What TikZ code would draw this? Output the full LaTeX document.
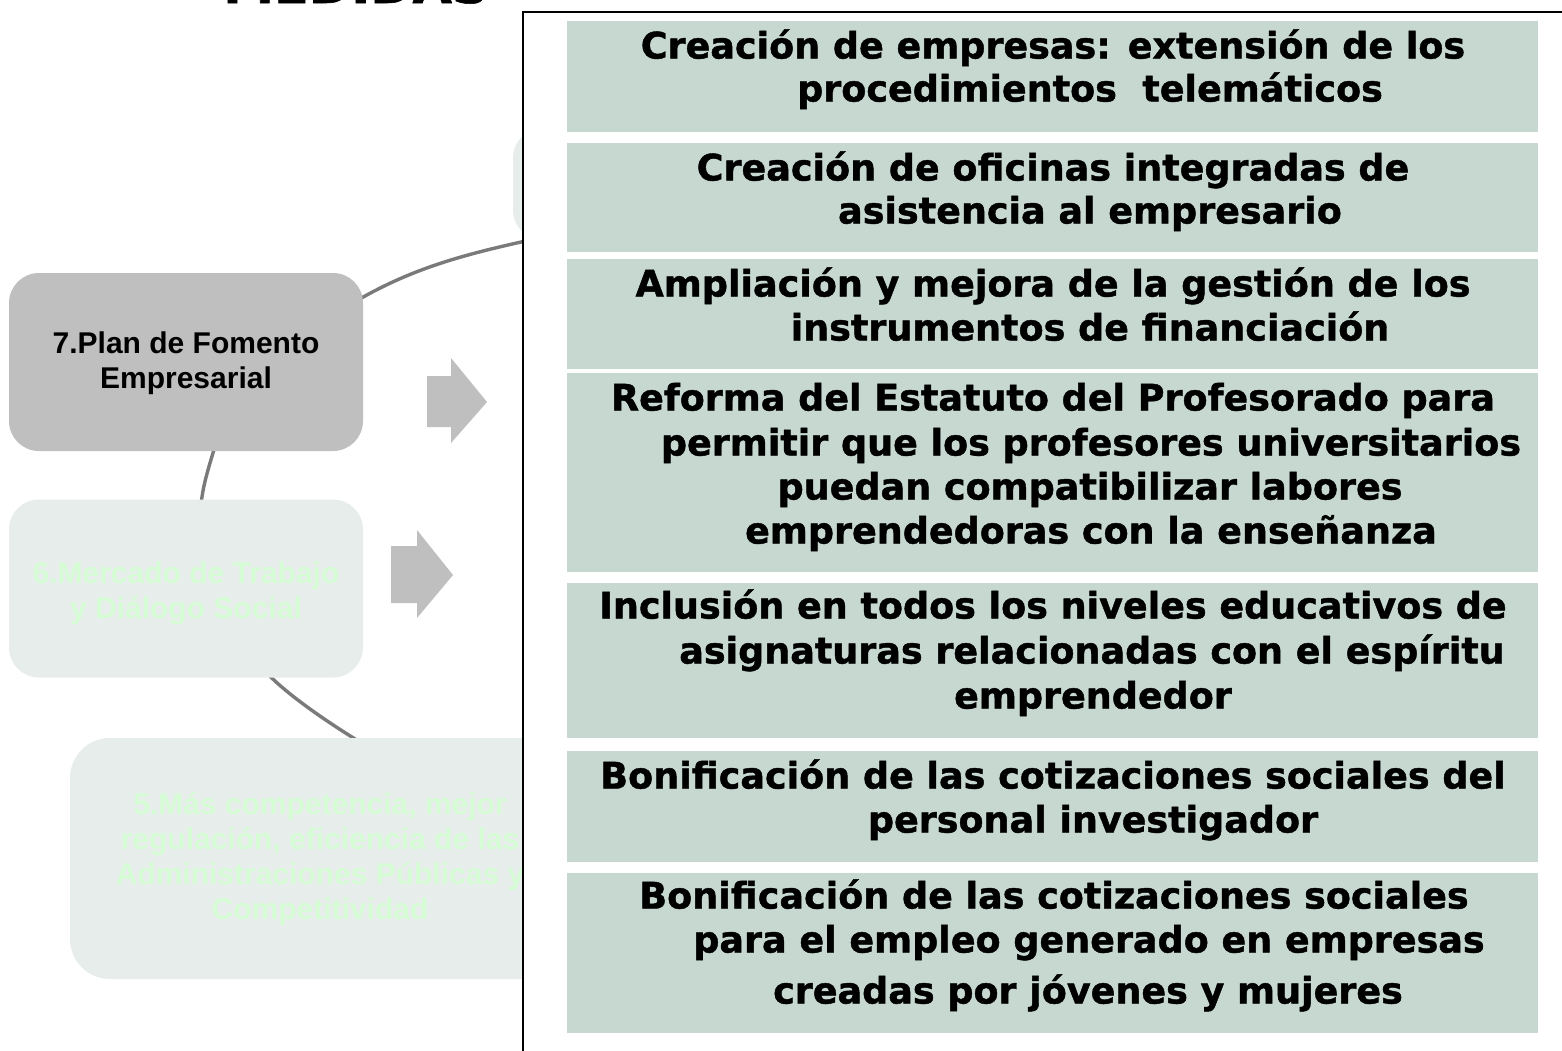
\documentclass[tikz,border=0pt]{standalone}
\usepackage{fontspec}
\setmainfont{Liberation Sans}
\newfontfamily\heavyfont[FakeBold=1.2]{DejaVu Sans Bold}
\definecolor{graybox}{RGB}{191,191,191}
\definecolor{fadebg}{RGB}{231,237,234}
\definecolor{fadetx}{RGB}{214,252,214}
\definecolor{greenbox}{RGB}{198,216,208}
\definecolor{arcgray}{RGB}{122,122,122}
\newcommand\mline[4]{\node[mtext] (#1) at (#2,#3) {#4};}
\begin{document}
\begin{tikzpicture}[x=1pt,y=-1pt,
  every node/.style={inner sep=0pt, outer sep=0pt},
  graysmart/.style={fill=graybox, rounded corners=30pt},
  fadesmart/.style={fill=fadebg, rounded corners=30pt},
  lbl/.style={font=\bfseries\fontsize{30}{35}\selectfont, align=center},
  mtext/.style={font=\heavyfont\fontsize{36.5}{44}\selectfont, text height=0.75em, text depth=0.05em, anchor=center},
  greenrect/.style={fill=greenbox},
  arcline/.style={draw=arcgray, line width=3.4pt},
  fatarrow/.style={fill=graybox}]
\useasboundingbox (0,0) rectangle (1562,1050);
\fill[white] (0,0) rectangle (1562,1050);

% title (cut off at top, as in the reference)
\node[font=\heavyfont\fontsize{51}{60}\selectfont, anchor=base] (title) at (356,3) {MEDIDAS};

% connector arcs
\coordinate (c1a) at (358,300);
\coordinate (c1b) at (530,240);
\coordinate (c2a) at (215,446);
\coordinate (c2b) at (201,505);
\coordinate (c3a) at (266,672);
\coordinate (c3b) at (360,742);

% faded smart-art boxes
\node[fadesmart, minimum width=357pt, minimum height=112pt] (b8) at (691.5,184) {};
\draw[arcline] (c1a) .. controls (415,267) and (467,254) .. (c1b);
\draw[arcline] (c2a) .. controls (209,467) and (203,484) .. (c2b);
\draw[arcline] (c3a) .. controls (287,695) and (332,725) .. (c3b);
\node[fadesmart, rounded corners=40pt, minimum width=500pt, minimum height=241pt] (b5) at (320,858.5) {};
\node[lbl, text=fadetx] (t5) at (320,859) {5.Más competencia, mejor\\regulación, eficiencia de las\\Administraciones Públicas y\\Competitividad};
\node[fadesmart, minimum width=354pt, minimum height=178pt] (b6) at (186,588.5) {};
\node[lbl, text=fadetx] (t6) at (186,593) {6.Mercado de Trabajo\\y Diálogo Social};
\node[graysmart, minimum width=354pt, minimum height=178pt] (b7) at (186,362) {};
\node[lbl, text=black] (t7) at (186,363.5) {7.Plan de Fomento\\Empresarial};

% block arrows
\fill[fatarrow] (427,376) -- (451,376) -- (451,358) -- (487,402) -- (451,443) -- (451,427) -- (427,427) -- cycle;
\fill[fatarrow] (391,546) -- (417,546) -- (417,530) -- (453,575) -- (417,618) -- (417,603) -- (391,603) -- cycle;

% white panel
\node[draw=black, line width=2pt, fill=white, anchor=north west, minimum width=1100pt, minimum height=1100pt] (panel) at (522.5,11.5) {};

% green measure boxes
\node[greenrect, minimum width=971pt, minimum height=111pt] (g1) at (1052.5,76.5) {};
\node[greenrect, minimum width=971pt, minimum height=109pt] (g2) at (1052.5,197.5) {};
\node[greenrect, minimum width=971pt, minimum height=110pt] (g3) at (1052.5,314) {};
\node[greenrect, minimum width=971pt, minimum height=199pt] (g4) at (1052.5,472.5) {};
\node[greenrect, minimum width=971pt, minimum height=155pt] (g5) at (1052.5,660.5) {};
\node[greenrect, minimum width=971pt, minimum height=111pt] (g6) at (1052.5,806.5) {};
\node[greenrect, minimum width=971pt, minimum height=160pt] (g7) at (1052.5,953) {};

\mline{t1a}{1053}{55}{Creación de empresas: extensión de los}
\mline{t1b}{1090}{98}{procedimientos\ \ telemáticos}
\mline{t2a}{1053}{177}{Creación de oficinas integradas de}
\mline{t2b}{1090}{220}{asistencia al empresario}
\mline{t3a}{1053}{293}{Ampliación y mejora de la gestión de los}
\mline{t3b}{1090}{337}{instrumentos de financiación}
\mline{t4a}{1053}{407}{Reforma del Estatuto del Profesorado para}
\mline{t4b}{1091}{452}{permitir que los profesores universitarios}
\mline{t4c}{1090}{496}{puedan compatibilizar labores}
\mline{t4d}{1091}{540}{emprendedoras con la enseñanza}
\mline{t5a}{1053}{615}{Inclusión en todos los niveles educativos de}
\mline{t5b}{1092}{660}{asignaturas relacionadas con el espíritu}
\mline{t5c}{1093}{705}{emprendedor}
\mline{t6a}{1053}{785}{Bonificación de las cotizaciones sociales del}
\mline{t6b}{1093}{829}{personal investigador}
\mline{t7a}{1054}{905}{Bonificación de las cotizaciones sociales}
\mline{t7b}{1089}{949}{para el empleo generado en empresas}
\mline{t7c}{1088}{1000}{creadas por jóvenes y mujeres}
\end{tikzpicture}
\end{document}
